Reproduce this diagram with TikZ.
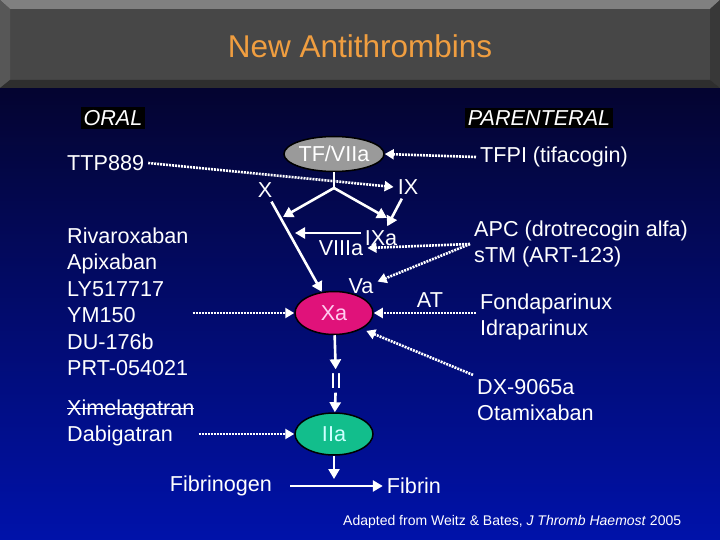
\documentclass[tikz,border=0pt]{standalone}
\usepackage{fontspec}
\setmainfont{Liberation Sans}
\usetikzlibrary{shapes.geometric,arrows.meta}
\newcommand{\crossout}[1]{\setbox0\hbox{#1}\rlap{\rule[0.3em]{\wd0}{1.2pt}}\box0}
\definecolor{bgdark}{RGB}{4,4,48}
\definecolor{bgbright}{RGB}{0,18,170}
\definecolor{titleorange}{RGB}{240,158,64}
\definecolor{tfgray}{RGB}{154,154,154}
\definecolor{xamag}{RGB}{224,18,122}
\definecolor{xatext}{RGB}{255,205,240}
\definecolor{iiateal}{RGB}{18,190,140}
\definecolor{iiatext}{RGB}{205,255,255}
\begin{document}
\begin{tikzpicture}[x=1pt,y=-1pt,
every node/.style={text=white,font=\fontsize{21.6}{26.5}\selectfont,inner sep=4pt},
factor/.style={ellipse,draw=black,line width=1.5pt,minimum width=78pt,minimum height=42pt,inner sep=0pt},
drugs/.style={align=left,anchor=west},
route/.style={fill=black,font=\fontsize{21.6}{26.5}\selectfont\itshape,inner sep=3pt},
arr/.style={white,line width=2.6pt,-{Triangle[length=10pt,width=11pt]}},
inhib/.style={white,line width=2.6pt,dash pattern=on 2pt off 1pt,-{Triangle[length=9pt,width=10pt]}}]
\useasboundingbox (0,0) rectangle (720,540);
\shade[shading angle=45,top color=bgdark,bottom color=bgbright] (0,88) rectangle (720,540);
\fill[black!72] (0,0) rectangle (720,88);
\fill[black!50] (0,0) -- (720,0) -- (710,9) -- (10,9) -- cycle;
\fill[black!66] (0,0) -- (10,9) -- (10,80) -- (0,88) -- cycle;
\fill[black!78] (720,0) -- (710,9) -- (710,80) -- (720,88) -- cycle;
\fill[black!82] (0,88) -- (10,80) -- (710,80) -- (720,88) -- cycle;
\node[text=titleorange,font=\fontsize{31.5}{38}\selectfont] (title) at (360,46) {New Antithrombins};
\node[route] (oral) at (113,118) {ORAL};
\node[route] (parent) at (539,118) {PARENTERAL};
\node[factor,fill=tfgray,minimum height=35pt] (tf) at (334,154) {TF/VIIa};
\node (ix) at (408,187) {IX};
\node (x) at (265,190) {X};
\node (ixa) at (381,238) {IXa};
\node (viiia) at (341,248) {VIIIa};
\node (va) at (361,286) {Va};
\node[factor,fill=xamag,text=xatext,minimum height=43pt] (xa) at (334,313) {Xa};
\node (ii) at (336,381) {II};
\node[factor,fill=iiateal,text=iiatext] (iia) at (334,434) {IIa};
\node (fgen) at (221,486) {Fibrinogen};
\node (fib) at (414,486) {Fibrin};
\node[drugs] (ttp) at (63,163) {TTP889};
\node[drugs] (oxa) at (63,302) {Rivaroxaban\\Apixaban\\LY517717\\YM150\\DU-176b\\PRT-054021};
\node[drugs] (othr) at (63,423) {\crossout{Ximelagatran}\\Dabigatran};
\node[drugs] (tfpi) at (476,157) {TFPI (tifacogin)};
\node[drugs] (apc) at (470,244) {APC (drotrecogin alfa)\\sTM (ART-123)};
\node[drugs] (fonda) at (476,317) {Fondaparinux\\Idraparinux};
\node[drugs] (dx) at (473,400) {DX-9065a\\Otamixaban};
\node[anchor=west,font=\fontsize{14}{17}\selectfont] (cite) at (339,522) {Adapted from Weitz \& Bates, \textit{J Thromb Haemost} 2005};
\coordinate (apex) at (334,188);
\coordinate (xhit) at (283,217);
\coordinate (ixahit) at (387,218);
\coordinate (xline) at (295,233);
\coordinate (conv) at (334,479);
\draw[white,line width=2.6pt] (tf.south) -- (apex);
\foreach \a/\b in {apex/xhit,apex/ixahit,ix/ixa,x/xa.120,xa/ii,ii/iia,iia.south/conv} {
\draw[arr] (\a) -- (\b);
}
\draw[arr] ([yshift=5pt]ixa.west) -- (xline);
\draw[arr,shorten <=14pt] (fgen) -- (fib);
\draw[inhib] (tfpi.west) -- (tf.east);
\draw[inhib] (ttp.east) -- (ix.west);
\draw[inhib] (apc.west) -- (viiia.east);
\draw[inhib] (apc.west) -- (va.15);
\draw[inhib] (fonda.west |- xa.east) -- (xa.east) node[pos=0.45,above] (at) {AT};
\draw[inhib,shorten >=5pt] (dx.north west) -- (xa.-30);
\draw[inhib] (oxa.east |- xa.west) -- (xa.west);
\draw[inhib] (othr.east |- iia.west) -- (iia.west);
\end{tikzpicture}
\end{document}
